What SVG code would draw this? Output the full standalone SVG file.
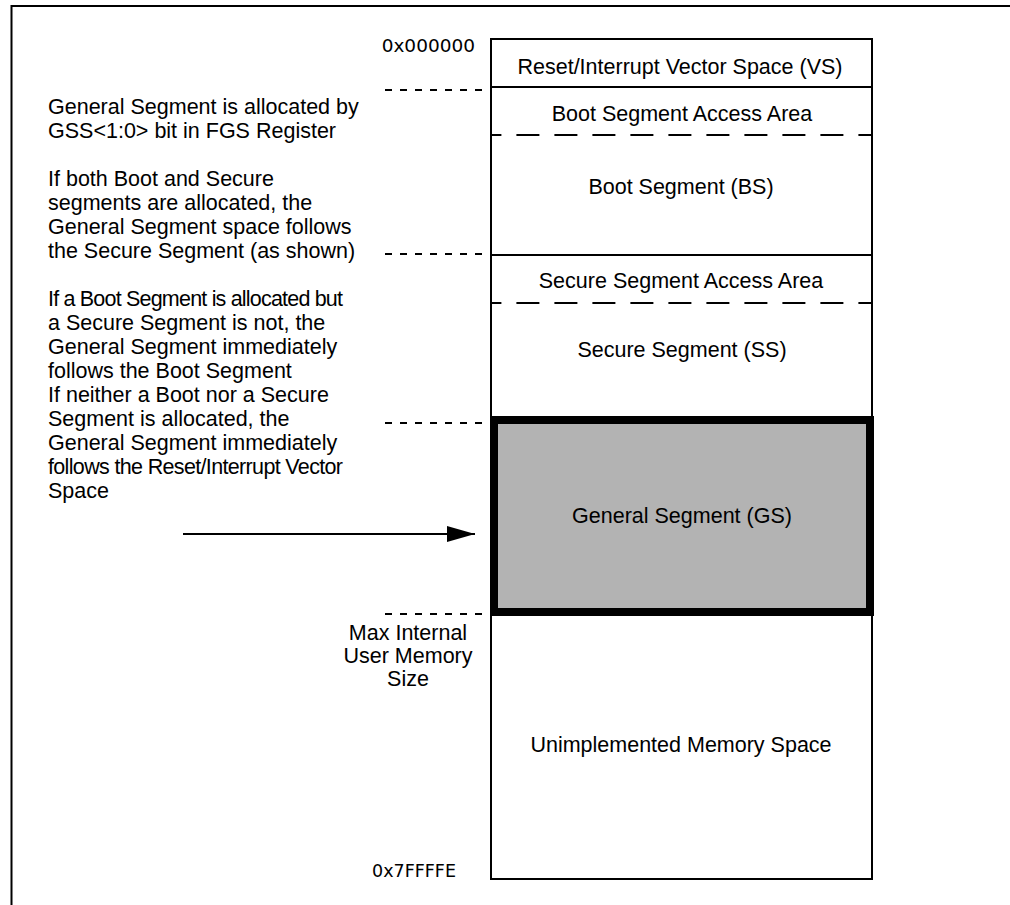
<svg xmlns="http://www.w3.org/2000/svg" width="1010" height="905" viewBox="0 0 1010 905">
<style>
.t{font-family:"Liberation Sans",Arial,sans-serif;font-size:21.5px;fill:#000}
.c{text-anchor:middle}
.m{font-family:"DejaVu Sans",Verdana,sans-serif;font-size:17.5px;fill:#000;text-anchor:end}
.dot{stroke:#000;stroke-width:2;stroke-dasharray:7 8;fill:none}
.dash{stroke:#000;stroke-width:2;stroke-dasharray:23 15;stroke-dashoffset:12.6;fill:none}
.ln{stroke:#000;stroke-width:2;fill:none}
</style>
<defs>
<marker id="ah" markerWidth="28" markerHeight="16" refX="28" refY="8" orient="auto" markerUnits="userSpaceOnUse">
<path d="M0,0 L28,8 L0,16 Z" fill="#000"/>
</marker>
</defs>
<rect width="1010" height="905" fill="#fff"/>
<g id="frame">
<path class="ln" d="M11.5,905 V6 H1010"/>
</g>
<g id="memory-map">
<rect class="ln" x="491" y="39" width="381" height="840"/>
<line class="ln" x1="491" y1="87" x2="872" y2="87"/>
<line class="dash" x1="491" y1="135" x2="872" y2="135"/>
<line class="ln" x1="491" y1="255" x2="872" y2="255"/>
<line class="dash" x1="491" y1="303" x2="872" y2="303"/>
</g>
<g id="vs"><text class="t c" x="680" y="74">Reset/Interrupt Vector Space (VS)</text></g>
<g id="bs-access"><text class="t c" x="682" y="121">Boot Segment Access Area</text></g>
<g id="bs"><text class="t c" x="681" y="194">Boot Segment (BS)</text></g>
<g id="ss-access"><text class="t c" x="681" y="288">Secure Segment Access Area</text></g>
<g id="ss"><text class="t c" x="682" y="357">Secure Segment (SS)</text></g>
<g id="gs">
<rect x="494" y="420" width="376" height="192" fill="#b3b3b3" stroke="#000" stroke-width="8"/>
<text class="t c" x="682" y="523">General Segment (GS)</text>
</g>
<g id="unimpl"><text class="t c" x="681" y="752">Unimplemented Memory Space</text></g>
<g id="addr">
<text class="m" x="475" y="52" style="font-size:18.5px">0x000000</text>
<text class="m" x="456" y="877">0x7FFFFE</text>
</g>
<g id="max-label">
<text class="t c" x="408" y="640">Max Internal</text>
<text class="t c" x="408" y="663">User Memory</text>
<text class="t c" x="408" y="686">Size</text>
</g>
<g id="notes">
<text class="t" x="48" y="114">General Segment is allocated by</text>
<text class="t" x="48" y="138">GSS&lt;1:0&gt; bit in FGS Register</text>
<text class="t" x="48" y="186">If both Boot and Secure</text>
<text class="t" x="48" y="210">segments are allocated, the</text>
<text class="t" x="48" y="234">General Segment space follows</text>
<text class="t" x="48" y="258">the Secure Segment (as shown)</text>
<text class="t" x="48" y="306" textLength="295" lengthAdjust="spacing">If a Boot Segment is allocated but</text>
<text class="t" x="48" y="330">a Secure Segment is not, the</text>
<text class="t" x="48" y="354">General Segment immediately</text>
<text class="t" x="48" y="378">follows the Boot Segment</text>
<text class="t" x="48" y="402">If neither a Boot nor a Secure</text>
<text class="t" x="48" y="426">Segment is allocated, the</text>
<text class="t" x="48" y="450">General Segment immediately</text>
<text class="t" x="48" y="474" textLength="295" lengthAdjust="spacing">follows the Reset/Interrupt Vector</text>
<text class="t" x="48" y="498">Space</text>
</g>
<g id="connectors">
<line class="dot" x1="385" y1="90" x2="484" y2="90"/>
<line class="dot" x1="385" y1="254" x2="484" y2="254"/>
<line class="dot" x1="385" y1="423" x2="484" y2="423"/>
<line class="dot" x1="385" y1="614" x2="484" y2="614"/>
<line x1="183" y1="534" x2="475" y2="534" stroke="#000" stroke-width="2" marker-end="url(#ah)"/>
</g>
</svg>
